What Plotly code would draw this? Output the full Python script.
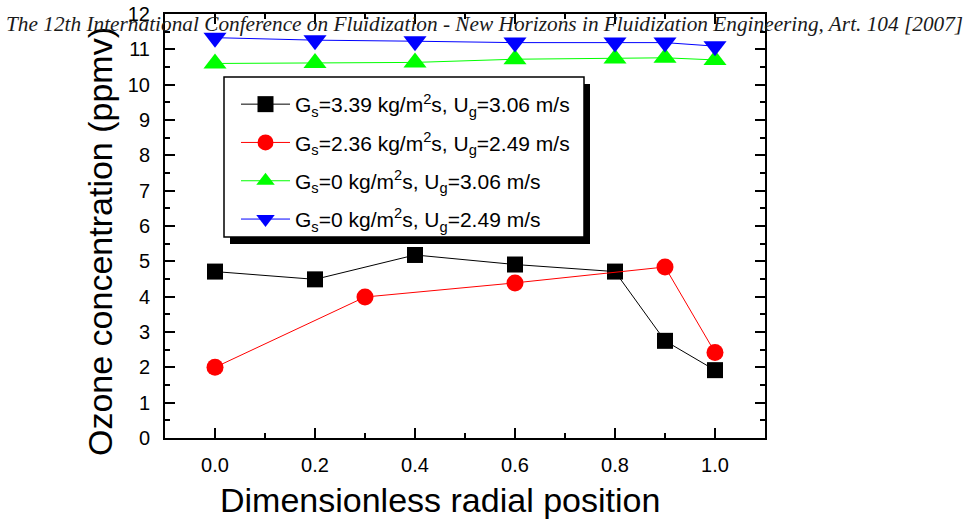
import plotly.graph_objects as go

# ---- data ----
x_black = [0.0, 0.2, 0.4, 0.6, 0.8, 0.9, 1.0]
y_black = [4.71, 4.49, 5.18, 4.91, 4.71, 2.75, 1.92]

x_red = [0.0, 0.3, 0.6, 0.9, 1.0]
y_red = [2.00, 3.99, 4.39, 4.84, 2.42]

x_green = [0.0, 0.2, 0.4, 0.6, 0.8, 0.9, 1.0]
y_green = [10.60, 10.61, 10.63, 10.72, 10.74, 10.76, 10.70]

x_blue = [0.0, 0.2, 0.4, 0.6, 0.8, 0.9, 1.0]
y_blue = [11.33, 11.26, 11.23, 11.19, 11.19, 11.19, 11.09]

names = [
    "G<sub>s</sub>=3.39 kg/m<sup>2</sup>s, U<sub>g</sub>=3.06 m/s",
    "G<sub>s</sub>=2.36 kg/m<sup>2</sup>s, U<sub>g</sub>=2.49 m/s",
    "G<sub>s</sub>=0 kg/m<sup>2</sup>s, U<sub>g</sub>=3.06 m/s",
    "G<sub>s</sub>=0 kg/m<sup>2</sup>s, U<sub>g</sub>=2.49 m/s",
]
x_tickvals = [0.0, 0.2, 0.4, 0.6, 0.8, 1.0]
y_tickvals = list(range(0, 13))

x_title = "Dimensionless radial position"
y_title = "Ozone concentration (ppmv)"
header = ("The 12th International Conference on Fluidization - New Horizons in "
          "Fluidization Engineering, Art. 104 [2007]")

series = [
    (x_black, y_black, "black", "square", 16),
    (x_red, y_red, "#ff0000", "circle", 17),
    (x_green, y_green, "#00ff00", "triangle-up", 20),
    (x_blue, y_blue, "#0000ff", "triangle-down", 20),
]

fig = go.Figure()
for i, (xs, ys, col, sym, sz) in enumerate(series):
    fig.add_trace(go.Scatter(
        x=xs, y=ys, mode="lines+markers", name=names[i],
        legendgroup=f"g{i}",
        line=dict(color=col, width=1),
        marker=dict(color=col, symbol=sym, size=sz, line=dict(width=0)),
    ))

W, H = 967, 521
ml, mr, mt, mb = 165, 202, 14, 83
pw, ph = W - ml - mr, H - mt - mb


def px(x):
    return (x - ml) / pw


def py(y):
    return (H - mb - y) / ph


axis_common = dict(
    showline=True, linecolor="black", linewidth=2, mirror="allticks",
    ticks="inside", ticklen=10, tickwidth=1.5, tickcolor="black",
    showgrid=False, zeroline=False, automargin=False,
    tickfont=dict(family="Liberation Sans, Arial", size=20, color="black"),
)

fig.update_layout(
    width=W, height=H,
    margin=dict(l=ml, r=mr, t=mt, b=mb, autoexpand=False),
    paper_bgcolor="white", plot_bgcolor="white",
    xaxis=dict(
        range=[-0.1, 1.1], tickvals=x_tickvals, tickformat=".1f",
        minor=dict(dtick=0.1, ticks="inside", ticklen=5, tickwidth=1.5, tickcolor="black"),
        ticklabelstandoff=8,
        **axis_common,
    ),
    yaxis=dict(
        range=[0, 12], tickvals=y_tickvals,
        minor=dict(dtick=0.5, ticks="inside", ticklen=5, tickwidth=1.5, tickcolor="black"),
        ticklabelstandoff=9,
        **axis_common,
    ),
    legend=dict(
        x=px(236), y=py(84),
        xanchor="left", yanchor="top",
        bgcolor="rgba(0,0,0,0)", borderwidth=0,
        font=dict(family="Liberation Sans, Arial", size=21, color="black"),
        tracegroupgap=8, itemwidth=49,
    ),
    showlegend=True,
)

# legend frame with drop shadow
fig.add_shape(type="rect", xref="paper", yref="paper",
              x0=px(230), x1=px(590), y0=py(244), y1=py(84),
              fillcolor="black", line=dict(width=0), layer="above")
fig.add_shape(type="rect", xref="paper", yref="paper",
              x0=px(224), x1=px(584), y0=py(237), y1=py(77),
              fillcolor="white", line=dict(color="black", width=1.5), layer="above")

# axis titles
fig.add_annotation(
    text=x_title, xref="paper", yref="paper", x=px(440), y=py(500),
    xanchor="center", yanchor="middle", showarrow=False,
    font=dict(family="Liberation Sans, Arial", size=34, color="black"),
)
fig.add_annotation(
    text=y_title, xref="paper", yref="paper", x=px(100), y=py(242),
    xanchor="center", yanchor="middle", showarrow=False, textangle=-90,
    font=dict(family="Liberation Sans, Arial", size=34, color="black"),
)

fig.add_annotation(
    text="<i>" + header + "</i>", xref="paper", yref="paper",
    x=px(5), y=py(24), xanchor="left", yanchor="middle", showarrow=False,
    borderpad=0,
    font=dict(family="Liberation Serif, Times New Roman", size=21.3, color="#1a1a1a"),
)

fig.write_html("out.html")
